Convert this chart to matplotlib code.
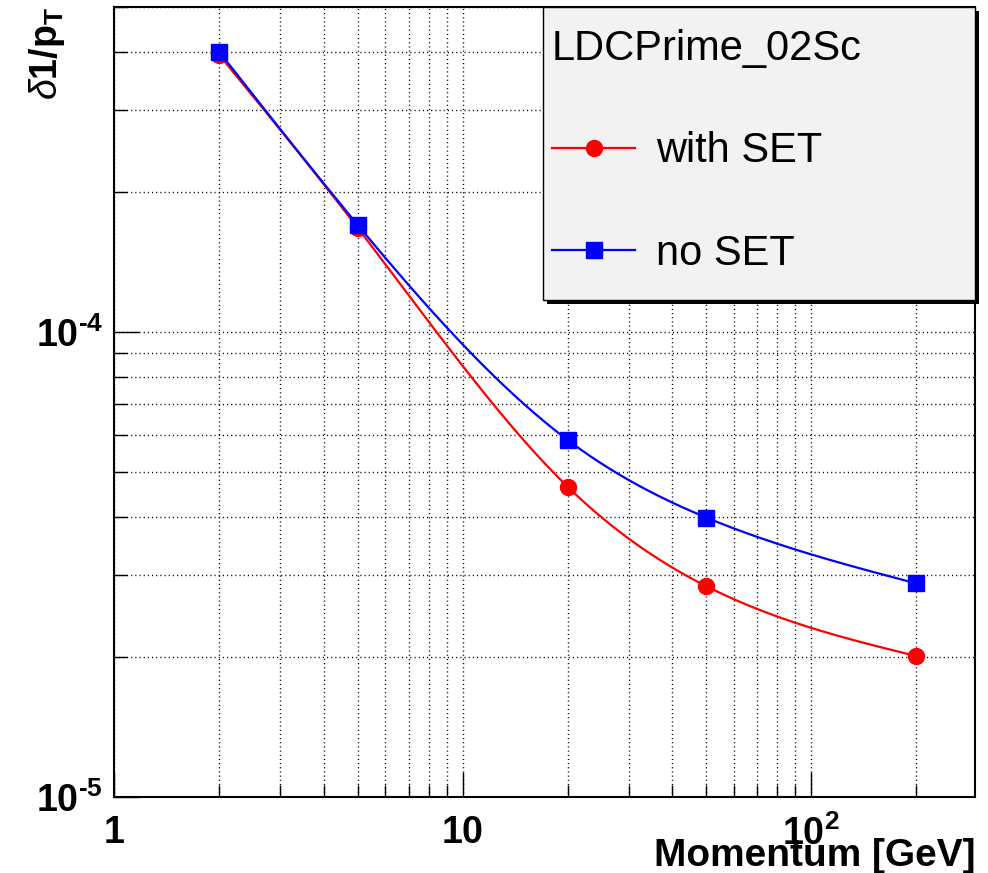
import numpy as np
import matplotlib
matplotlib.use("Agg")
import matplotlib.pyplot as plt
from matplotlib.lines import Line2D
from matplotlib.patches import Rectangle

plt.rcParams['font.family'] = ['Liberation Sans', 'DejaVu Sans']
plt.rcParams['mathtext.fontset'] = 'custom'
plt.rcParams['mathtext.rm'] = 'Liberation Sans:bold'
plt.rcParams['mathtext.bf'] = 'Liberation Sans:bold'
plt.rcParams['mathtext.it'] = 'Liberation Sans:italic'

# data
momentum = [2, 5, 20, 50, 200]
with_set = [3.95e-4, 1.675e-4, 4.65e-5, 2.84e-5, 2.01e-5]
no_set = [4.01e-4, 1.70e-4, 5.86e-5, 3.99e-5, 2.88e-5]
legend_title = "LDCPrime_02Sc"
series_names = ["with SET", "no SET"]


def smooth(x, y, n=300):
    # natural cubic spline in log-log space (like ROOT's "C" draw option)
    lx = np.log10(x)
    ly = np.log10(y)
    k = len(lx)
    h = np.diff(lx)
    A = np.zeros((k, k))
    b = np.zeros(k)
    A[0, 0] = 1
    A[-1, -1] = 1
    for i in range(1, k - 1):
        A[i, i - 1] = h[i - 1]
        A[i, i] = 2 * (h[i - 1] + h[i])
        A[i, i + 1] = h[i]
        b[i] = 3 * ((ly[i + 1] - ly[i]) / h[i] - (ly[i] - ly[i - 1]) / h[i - 1])
    c = np.linalg.solve(A, b)
    xs = np.linspace(lx[0], lx[-1], n)
    ys = np.empty_like(xs)
    for j, xv in enumerate(xs):
        i = min(np.searchsorted(lx, xv, side='right') - 1, k - 2)
        d = xv - lx[i]
        bi = (ly[i + 1] - ly[i]) / h[i] - h[i] * (2 * c[i] + c[i + 1]) / 3
        di = (c[i + 1] - c[i]) / (3 * h[i])
        ys[j] = ly[i] + bi * d + c[i] * d ** 2 + di * d ** 3
    return 10 ** xs, 10 ** ys


fig = plt.figure(figsize=(9.88, 8.73), dpi=100)
ax = fig.add_axes([114 / 988, 1 - 797 / 873, (975 - 114) / 988, (797 - 7) / 873])
ax.set_xscale('log')
ax.set_yscale('log')
ax.set_xlim(1, 295)
ax.set_ylim(1e-5, 5e-4)

sx, sy = smooth(momentum, with_set)
ax.plot(sx, sy, color='red', lw=1.6, zorder=3)
ax.plot(momentum, with_set, 'o', color='red', ms=11.5, zorder=3)
sx, sy = smooth(momentum, no_set)
ax.plot(sx, sy, color='blue', lw=1.6, zorder=3)
ax.plot(momentum, no_set, 's', color='blue', ms=12, zorder=4)

ax.grid(True, which='both', color='black', linestyle=(0, (0.8, 2.2)), linewidth=1.0)
ax.tick_params(which='both', direction='in', top=False, right=False, width=1)
ax.tick_params(which='major', length=18)
ax.tick_params(which='minor', length=9)
ax.tick_params(axis='x', pad=13, labelsize=27)
ax.tick_params(axis='y', pad=8, labelsize=27)

ax.set_xticks([1, 10, 100])
ax.set_xticklabels([r'$\mathbf{1}$', r'$\mathbf{10}$', r'$\mathbf{10^{2}}$'])
ax.set_yticks([1e-5, 1e-4])
ax.set_yticklabels([r'$\mathbf{10^{\text{-}5}}$', r'$\mathbf{10^{\text{-}4}}$'])
ax.xaxis.set_minor_formatter(plt.NullFormatter())
ax.yaxis.set_minor_formatter(plt.NullFormatter())

for s in ax.spines.values():
    s.set_linewidth(1.5)
    s.set_color('black')

ax.set_xlabel('Momentum [GeV]', fontsize=28, fontweight='bold', loc='right')
ax.xaxis.set_label_coords(1.0, -0.052)
ax.set_ylabel(r'$\delta\mathbf{1/p_{T}}$', fontsize=27, loc='top')
ax.yaxis.set_label_coords(-0.055, 1.0)

# legend box with ROOT-like shadow
bx0 = (543 - 114) / 861
by0 = (797 - 300) / 790
dx, dy = 4 / 861, 4 / 790
ax.add_patch(Rectangle((bx0 + dx, by0 - dy), 1 - bx0, 1 - by0, transform=ax.transAxes,
                       facecolor='black', edgecolor='none', clip_on=False, zorder=5))
ax.add_patch(Rectangle((bx0, by0), 1 - bx0, 1 - by0, transform=ax.transAxes,
                       facecolor='#f2f2f2', edgecolor='black', lw=1.0, clip_on=False, zorder=5))

handles = [Line2D([], [], color='red', lw=1.6, marker='o', ms=11.5),
           Line2D([], [], color='blue', lw=1.6, marker='s', ms=12)]
leg = ax.legend(handles, series_names, title=legend_title, loc='upper left',
                bbox_to_anchor=((552 - 114) / 861, (797 - 29) / 790),
                borderaxespad=0, borderpad=0, fontsize=30, title_fontsize=30,
                frameon=False, handlelength=2.0, handletextpad=0.5,
                labelspacing=1.5, alignment='left')
leg.set_zorder(6)

fig.savefig('out.png', dpi=100)
